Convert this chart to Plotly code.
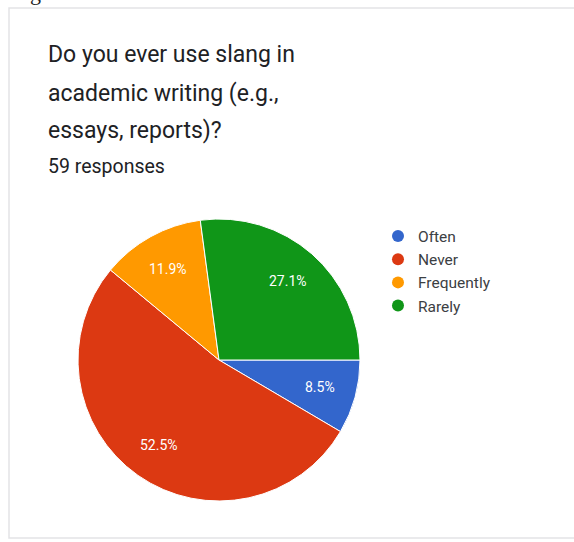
import math
import plotly.graph_objects as go

# Survey results
answers = ["Often", "Never", "Frequently", "Rarely"]
counts = [5, 31, 7, 16]
slice_colors = ["#3366cc", "#dc3912", "#ff9900", "#109618"]

question_lines = ["Do you ever use slang in", "academic writing (e.g.,", "essays, reports)?"]
responses_label = "59 responses"

W, H = 574, 542


def px_x(v):
    return v / W


def px_y(v):
    return 1 - v / H


# Pie placement (pixels)
cx, cy, R = 219, 360, 141
start_deg = 0  # first slice starts at 3 o'clock and runs clockwise

fig = go.Figure()

fig.add_trace(go.Pie(
    labels=answers,
    values=counts,
    sort=False,
    direction="clockwise",
    rotation=90 + start_deg,
    marker=dict(colors=slice_colors, line=dict(color="white", width=1)),
    textinfo="none",
    domain=dict(x=[px_x(cx - R), px_x(cx + R)], y=[px_y(cy + R), px_y(cy - R)]),
    showlegend=False,
    hoverinfo="skip",
))

# Round legend markers, one entry per answer
for name, col in zip(answers, slice_colors):
    fig.add_trace(go.Scatter(
        x=[None], y=[None], mode="markers", name=name,
        marker=dict(symbol="circle", size=14, color=col),
        legendgroup=name, showlegend=True, hoverinfo="skip",
    ))

annotations = []

# Percentage labels on each slice's bisector
total = sum(counts)
acc = 0
for c in counts:
    mid = (acc + c / 2) / total * 360 + start_deg  # degrees clockwise from 3 o'clock
    acc += c
    a = math.radians(mid)
    lx = cx + 0.74 * R * math.cos(a)
    ly = cy + 0.74 * R * math.sin(a)
    annotations.append(dict(
        text=f"{100 * c / total:.1f}%", x=px_x(lx), y=px_y(ly),
        xref="paper", yref="paper", xanchor="center", yanchor="middle",
        showarrow=False, font=dict(family="Roboto", size=14, color="white"),
    ))

for i, line in enumerate(question_lines):
    annotations.append(dict(
        text=line, x=px_x(46), y=px_y(55 + 38 * i), xref="paper", yref="paper",
        xanchor="left", yanchor="middle", showarrow=False,
        font=dict(family="Roboto", size=23, color="#202124"),
    ))
annotations.append(dict(
    text=responses_label, x=px_x(46), y=px_y(167), xref="paper", yref="paper",
    xanchor="left", yanchor="middle", showarrow=False,
    font=dict(family="Roboto", size=19.5, color="#202124"),
))
annotations.append(dict(
    text="g", x=px_x(28), y=px_y(7), xref="paper", yref="paper",
    xanchor="left", yanchor="bottom", showarrow=False,
    font=dict(family="Liberation Serif", size=22, color="#202124"),
))

fig.update_layout(
    width=W, height=H,
    margin=dict(l=0, r=0, t=0, b=0),
    paper_bgcolor="white", plot_bgcolor="white",
    xaxis=dict(visible=False), yaxis=dict(visible=False),
    annotations=annotations,
    legend=dict(
        x=px_x(378), y=px_y(219.5), xanchor="left", yanchor="top",
        font=dict(family="Roboto", size=15.5, color="#3c4043"),
        tracegroupgap=0, itemsizing="constant", bgcolor="rgba(0,0,0,0)",
    ),
    shapes=[dict(
        type="rect", xref="paper", yref="paper",
        x0=px_x(9), x1=px_x(590), y0=px_y(538), y1=px_y(8),
        line=dict(color="#e3e3e6", width=1.5), layer="below",
    )],
)

fig.write_html("out.html")
